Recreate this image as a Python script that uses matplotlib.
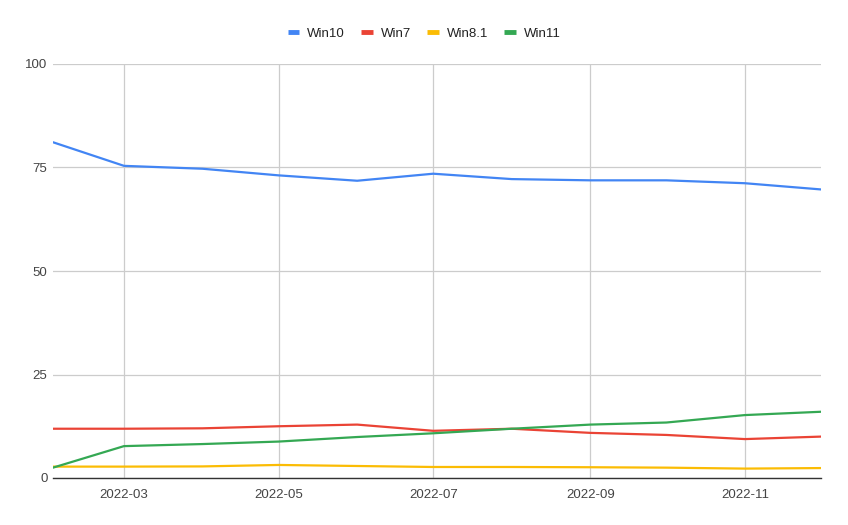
import matplotlib
matplotlib.use("Agg")
import matplotlib.pyplot as plt
import matplotlib.dates as mdates
import numpy as np
import datetime as dt

months = ["2022-02", "2022-03", "2022-04", "2022-05", "2022-06", "2022-07",
          "2022-08", "2022-09", "2022-10", "2022-11", "2022-12"]
win10 = [81.1, 75.4, 74.7, 73.1, 71.8, 73.5, 72.2, 71.9, 71.9, 71.2, 69.7]
win7 = [11.9, 11.9, 12.0, 12.5, 12.9, 11.4, 11.9, 10.9, 10.4, 9.4, 10.0]
win81 = [2.75, 2.75, 2.8, 3.15, 2.9, 2.66, 2.66, 2.6, 2.5, 2.27, 2.4]
win11 = [2.5, 7.7, 8.2, 8.8, 9.9, 10.8, 11.9, 12.9, 13.4, 15.2, 16.0]

series = [("Win10", win10, "#4285F4"), ("Win7", win7, "#EA4335"),
          ("Win8.1", win81, "#FBBC04"), ("Win11", win11, "#34A853")]

plt.rcParams['font.family'] = ['Liberation Sans', 'DejaVu Sans']

dates = [dt.datetime.strptime(m, "%Y-%m") for m in months]

fig = plt.figure(figsize=(8.48, 5.25), dpi=100)
ax = fig.add_axes([53/848, 47/525, (821-53)/848, (478-64)/525])

for name, vals, col in series:
    ax.plot(dates, vals, color=col, lw=1.6, label=name, solid_capstyle='round')

ax.set_xlim(dates[0], dates[-1])
ax.set_ylim(0, 100)
ax.set_yticks([0, 25, 50, 75, 100])
ax.xaxis.set_major_locator(mdates.MonthLocator(bymonth=[3, 5, 7, 9, 11]))
ax.xaxis.set_major_formatter(mdates.DateFormatter("%Y-%m"))
ax.grid(True, color="#cccccc", lw=0.9)
ax.set_axisbelow(True)
for s in ["top", "right", "left"]:
    ax.spines[s].set_visible(False)
ax.spines["bottom"].set_color("#333333")
ax.spines["bottom"].set_linewidth(1.0)
ax.tick_params(axis="both", length=0, labelsize=9.5, colors="#444444")
ax.tick_params(axis="y", pad=4)
ax.tick_params(axis="x", pad=8)

leg = fig.legend(loc="center", bbox_to_anchor=(0.5, 1 - 34/525), ncol=4,
                 frameon=False, fontsize=9.5, handlelength=0.9, handletextpad=0.6,
                 columnspacing=1.2)
for h in leg.legend_handles:
    h.set_linewidth(3.5)
    h.set_solid_capstyle('butt')
for t in leg.get_texts():
    t.set_color("#222222")

fig.savefig("out.png", dpi=100)
